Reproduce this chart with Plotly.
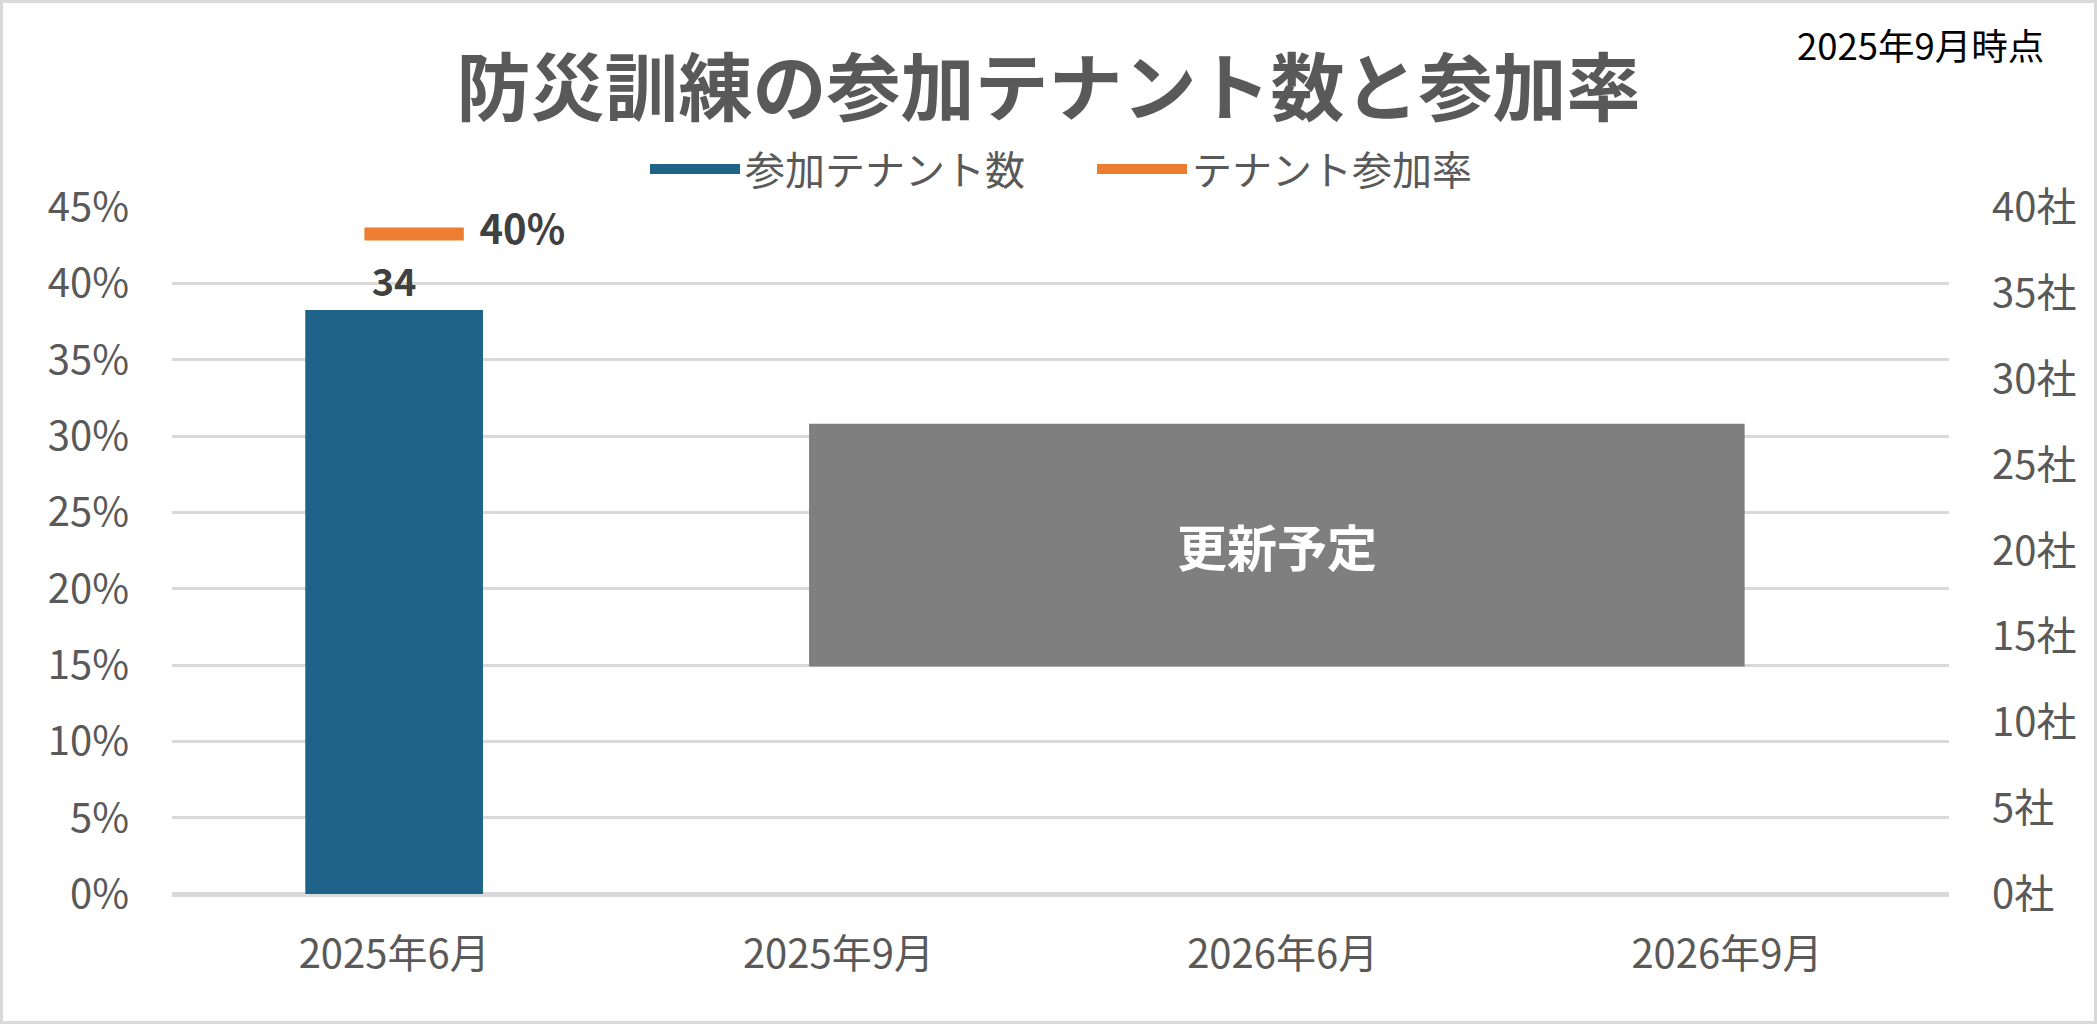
import plotly.graph_objects as go

# ---- data ----
categories = ["2025年6月", "2025年9月", "2026年6月", "2026年9月"]
tenant_counts = [34, None, None, None]
participation_rate = [0.40, None, None, None]
left_ticks = [0, 0.05, 0.10, 0.15, 0.20, 0.25, 0.30, 0.35, 0.40, 0.45]
left_tick_labels = ["0%", "5%", "10%", "15%", "20%", "25%", "30%", "35%", "40%", "45%"]
right_ticks = [0, 5, 10, 15, 20, 25, 30, 35, 40]
right_tick_labels = ["0社", "5社", "10社", "15社", "20社", "25社", "30社", "35社", "40社"]

title_text = "防災訓練の参加テナント数と参加率"
asof_text = "2025年9月時点"
pending_text = "更新予定"
series_names = ["参加テナント数", "テナント参加率"]

FONT = "Noto Sans CJK JP"
GRAY = "#595959"
DARK = "#404040"
BLUE = "#1F6488"
ORANGE = "#ED7D31"
GRID = "#D9D9D9"

fig = go.Figure()

# bars (legend swatch provided by a styled legend-only entry below)
fig.add_trace(go.Bar(
    x=categories, y=tenant_counts, name=series_names[0],
    yaxis="y2", width=0.4, showlegend=False, legendgroup="cnt",
    marker=dict(color=BLUE, line=dict(width=0)),
    text=[str(v) if v is not None else "" for v in tenant_counts],
    textposition="outside", cliponaxis=False,
    textfont=dict(family=FONT, size=38, color=DARK, weight="bold"),
))
fig.add_trace(go.Scatter(
    x=[None], y=[None], name=series_names[0], mode="lines", legendgroup="cnt",
    yaxis="y2", line=dict(color=BLUE, width=23),
))

fig.add_trace(go.Scatter(
    x=list(range(len(categories))), y=participation_rate, name=series_names[1],
    xaxis="x2", yaxis="y3", mode="lines+markers+text",
    line=dict(color=ORANGE, width=13),
    marker=dict(symbol="line-ew", size=71, color=ORANGE,
                line=dict(color=ORANGE, width=13)),
    texttemplate="\u2002%{y:.0%}",
    textposition="middle right", cliponaxis=False,
    textfont=dict(family=FONT, size=40, color=DARK, weight="bold"),
))

W, H = 2097, 1024
ml, mr, mt, mb = 172, 148, 207, 130
pw, ph = W - ml - mr, H - mt - mb

fig.update_layout(
    width=W, height=H,
    margin=dict(l=ml, r=mr, t=mt, b=mb, pad=0),
    paper_bgcolor="white", plot_bgcolor="white",
    font=dict(family=FONT, color=GRAY, size=40),
    title=dict(text=title_text, x=0.5, xanchor="center", y=1 - 89 / H,
               yanchor="middle", yref="container",
               font=dict(family=FONT, size=74, color=GRAY, weight="bold")),
    legend=dict(orientation="h", x=(645 - ml) / pw, xanchor="left",
                y=1 + (mt - 169) / ph, yanchor="middle",
                font=dict(family=FONT, size=40, color=GRAY),
                itemwidth=90, entrywidth=342, entrywidthmode="pixels",
                bgcolor="rgba(0,0,0,0)"),
    showlegend=True,
    xaxis=dict(type="category", categoryorder="array", categoryarray=categories,
               range=[-0.5, 3.5], showgrid=False, showline=False, zeroline=False,
               ticks="", tickfont=dict(family=FONT, size=40, color=GRAY),
               ticklabelstandoff=33, fixedrange=True),
    xaxis2=dict(overlaying="x", range=[-0.545, 3.455], visible=False),
    yaxis=dict(range=[0, 0.45], tickvals=left_ticks, ticktext=left_tick_labels,
               showgrid=True, gridcolor=GRID, gridwidth=3,
               zeroline=True, zerolinecolor=GRID, zerolinewidth=4.5,
               showline=False, ticks="", ticklabelstandoff=42,
               tickfont=dict(family=FONT, size=40, color=GRAY)),
    yaxis2=dict(range=[0, 40], tickvals=right_ticks, ticktext=right_tick_labels,
                overlaying="y", side="right", showgrid=False, zeroline=False,
                showline=False, ticks="", ticklabelstandoff=42,
                tickfont=dict(family=FONT, size=40, color=GRAY)),
    yaxis3=dict(range=[0, 0.4164], overlaying="y", visible=False,
                showgrid=False, zeroline=False),
)

# "更新予定" placeholder box
fig.add_shape(type="rect", xref="x", yref="y", x0=0.934, x1=3.04, y0=0.149, y1=0.308,
              fillcolor="#7F7F7F", line=dict(width=0), layer="above")
fig.add_annotation(xref="x", yref="y", x=1.987, y=0.2285, text=pending_text,
                   showarrow=False,
                   font=dict(family=FONT, size=50, color="white", weight="bold"))

# as-of note
fig.add_annotation(xref="paper", yref="paper", x=(2046 - ml) / pw, xanchor="right",
                   y=1 + (mt - 44) / ph, yanchor="middle", text=asof_text,
                   showarrow=False, font=dict(family=FONT, size=36.5, color="black"))

# outer border
fig.add_shape(type="rect", xref="paper", yref="paper",
              x0=(1.5 - ml) / pw, x1=(W - 1.5 - ml) / pw,
              y0=(1.5 - mb) / ph, y1=1 + (mt - 1.5) / ph,
              line=dict(color=GRID, width=3), fillcolor="rgba(0,0,0,0)", layer="below")

fig.write_html(
    "out.html",
    config={"displayModeBar": False},
    post_script="document.body.style.margin='0';document.body.style.overflow='hidden';",
)
